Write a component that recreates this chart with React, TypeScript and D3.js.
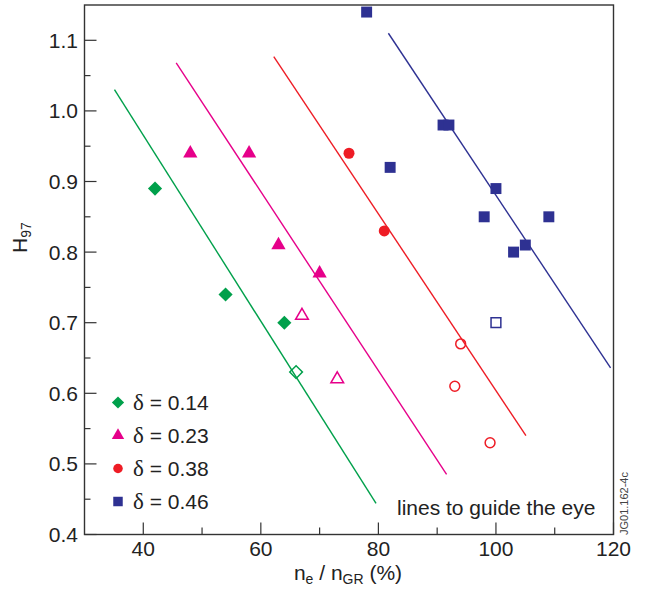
import React from "react";
import * as d3 from "d3";

// data: [ne/nGR (%), H97]
const d014Filled = [[42, 0.89], [54, 0.74], [64, 0.70]];
const d014Open = [[66, 0.63]];
const d023Filled = [[48, 0.94], [58, 0.94], [63, 0.81], [70, 0.77]];
const d023Open = [[67, 0.71], [73, 0.62]];
const d038Filled = [[75, 0.94], [81, 0.83]];
const d038Open = [[94, 0.67], [93, 0.61], [99, 0.53]];
const d046Filled = [
  [78, 1.14], [91, 0.98], [92, 0.98], [82, 0.92], [100, 0.89],
  [98, 0.85], [109, 0.85], [105, 0.81], [103, 0.80],
];
const d046Open = [[100, 0.70]];

// guide lines (start, end)
const guide014 = [[35.1, 1.03], [79.6, 0.444]];
const guide023 = [[45.6, 1.068], [91.6, 0.485]];
const guide038 = [[62.2, 1.077], [105.1, 0.54]];
const guide046 = [[81.7, 1.11], [119.5, 0.636]];

const xTicks = [40, 60, 80, 100, 120];
const xMinor = [50, 70, 90, 110];
const yTicks = [0.4, 0.5, 0.6, 0.7, 0.8, 0.9, 1.0, 1.1];
const yMinor = [0.45, 0.55, 0.65, 0.75, 0.85, 0.95, 1.05];
const legendLabels = ["0.14", "0.23", "0.38", "0.46"];

const GREEN = "#00a04b";
const PINK = "#e6008a";
const RED = "#ee1c25";
const BLUE = "#2e3192";
const AXIS = "#333";
const FONT = "'Liberation Sans', Arial, Helvetica, sans-serif";
const FS = 21;

const x = d3.scaleLinear().domain([30, 120]).range([84.5, 613.5]);
const y = d3.scaleLinear().domain([0.4, 1.15]).range([534.5, 5]);

type Shape = "diamond" | "triangle" | "circle" | "square";

const symbolFor: Record<Shape, { type: d3.SymbolType; size: number }> = {
  diamond: { type: d3.symbolSquare, size: 100 },
  triangle: { type: d3.symbolTriangle, size: 88 },
  circle: { type: d3.symbolCircle, size: 95 },
  square: { type: d3.symbolSquare, size: 120 },
};

function Marker({ cx, cy, shape, color, open, scale = 1 }: {
  cx: number; cy: number; shape: Shape; color: string; open?: boolean; scale?: number;
}) {
  const s = symbolFor[shape];
  const path = d3.symbol(s.type, s.size * scale * (open ? 0.8 : 1))() || "";
  const rot = shape === "diamond" ? " rotate(45)" : "";
  return (
    <path
      d={path}
      transform={`translate(${cx},${cy})${rot}`}
      fill={open ? "none" : color}
      stroke={open ? color : "none"}
      strokeWidth={open ? 1.5 : 0}
    />
  );
}

const series = [
  { filled: d014Filled, open: d014Open, guide: guide014, shape: "diamond" as Shape, color: GREEN },
  { filled: d023Filled, open: d023Open, guide: guide023, shape: "triangle" as Shape, color: PINK },
  { filled: d038Filled, open: d038Open, guide: guide038, shape: "circle" as Shape, color: RED },
  { filled: d046Filled, open: d046Open, guide: guide046, shape: "square" as Shape, color: BLUE },
];

export default function App() {
  const line = d3.line<number[]>().x((d) => x(d[0])).y((d) => y(d[1]));
  const [x0, x1] = x.range();
  const [y0, y1] = y.range();

  return (
    <svg
      width={645}
      height={591}
      style={{ position: "absolute", left: 0, top: 0, background: "#fff" }}
      fontFamily={FONT}
    >
      {/* guide lines */}
      {series.map((s, i) => (
        <path key={"g" + i} d={line(s.guide) || ""} stroke={s.color} strokeWidth={1.4} fill="none" />
      ))}

      {/* markers */}
      {series.map((s, i) => (
        <g key={"m" + i}>
          {s.filled.map((d, j) => (
            <Marker key={j} cx={x(d[0])} cy={y(d[1])} shape={s.shape} color={s.color} />
          ))}
          {s.open.map((d, j) => (
            <Marker key={"o" + j} cx={x(d[0])} cy={y(d[1])} shape={s.shape} color={s.color} open />
          ))}
        </g>
      ))}

      {/* frame */}
      <rect x={x0} y={y1} width={x1 - x0} height={y0 - y1} fill="none" stroke={AXIS} strokeWidth={1.4} />

      {/* x ticks */}
      {xTicks.map((t) => (
        <g key={"xt" + t}>
          <line x1={x(t)} x2={x(t)} y1={y0} y2={y0 - 12} stroke={AXIS} strokeWidth={1.2} />
          <text x={x(t)} y={y0 + 21} textAnchor="middle" fontSize={FS} fill="#222">{t}</text>
        </g>
      ))}
      {xMinor.map((t) => (
        <line key={"xm" + t} x1={x(t)} x2={x(t)} y1={y0} y2={y0 - 7} stroke={AXIS} strokeWidth={1.2} />
      ))}

      {/* y ticks */}
      {yTicks.map((t) => (
        <g key={"yt" + t}>
          <line x1={x0} x2={x0 + 12} y1={y(t)} y2={y(t)} stroke={AXIS} strokeWidth={1.2} />
          <text x={78} y={y(t) + 7.5} textAnchor="end" fontSize={FS} fill="#222">{t.toFixed(1)}</text>
        </g>
      ))}
      {yMinor.map((t) => (
        <line key={"ym" + t} x1={x0} x2={x0 + 6} y1={y(t)} y2={y(t)} stroke={AXIS} strokeWidth={1.2} />
      ))}

      {/* axis titles */}
      <text x={348} y={580} textAnchor="middle" fontSize={FS} fill="#222">
        n<tspan fontSize={14} dy={4}>e</tspan>
        <tspan dy={-4}> / n</tspan>
        <tspan fontSize={14} dy={4}>GR</tspan>
        <tspan dy={-4}> (%)</tspan>
      </text>
      <text transform="translate(27,253) rotate(-90)" textAnchor="start" fontSize={FS} fill="#222">
        H<tspan fontSize={14} dy={4}>97</tspan>
      </text>

      {/* legend */}
      {series.map((s, i) => {
        const ly = 402.5 + i * 33;
        return (
          <g key={"l" + i}>
            <Marker cx={118} cy={ly} shape={s.shape} color={s.color} scale={0.75} />
            <text x={133} y={ly + 7.5} fontSize={FS} fill="#222">
              <tspan fontFamily="'Liberation Serif', 'DejaVu Serif', serif" fontSize={23}>δ</tspan>
              <tspan> = {legendLabels[i]}</tspan>
            </text>
          </g>
        );
      })}

      <text x={397} y={515} fontSize={FS} fill="#222">lines to guide the eye</text>
      <text transform="translate(628,535) rotate(-90)" fontSize={11} fill="#444">JG01.162-4c</text>
    </svg>
  );
}
